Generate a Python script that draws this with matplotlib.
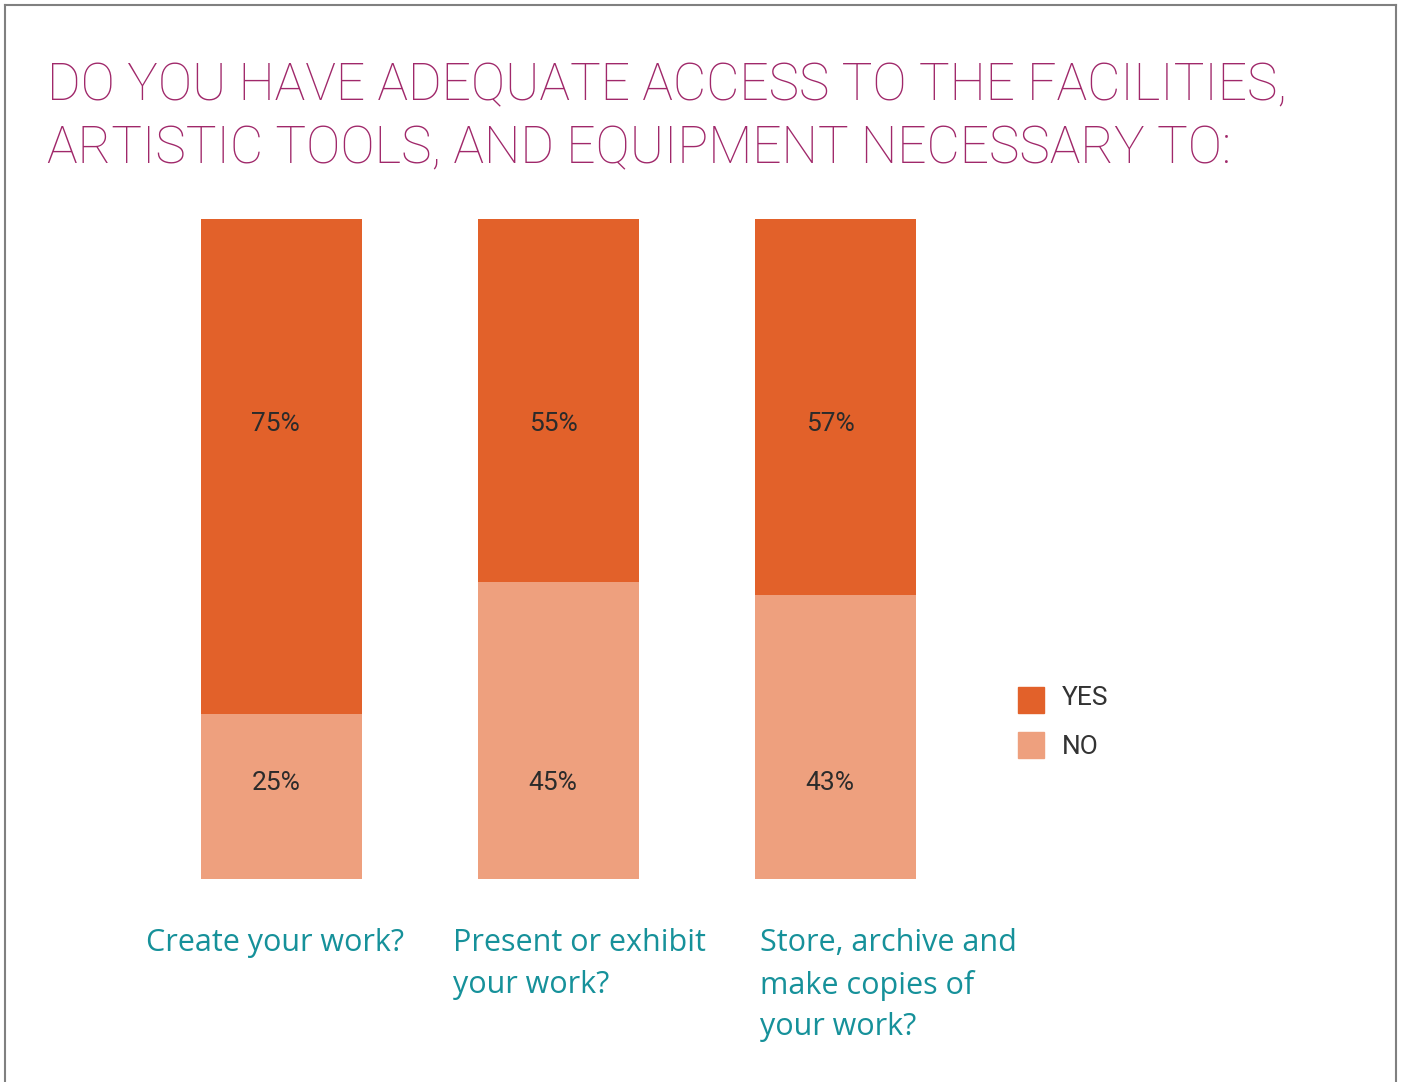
import matplotlib.pyplot as plt
import matplotlib.patches as mpatches
import numpy as np

questions = ['Create your work?', 'Present or exhibit\nyour work?',
             'Store, archive and\nmake copies of\nyour work?']
yes = np.array([75, 55, 57])
no = np.array([25, 45, 43])

YES_C = '#E2612A'
NO_C = '#EEA07E'
TITLE_C = '#A0286A'
TEAL = '#16919A'

W, H = 1401, 1082
fig = plt.figure(figsize=(W / 100, H / 100), dpi=100)

# frame round the panel (no bottom edge in the original)
fig.add_artist(plt.Line2D([5 / W, 5 / W], [0, 1 - 5 / H], color='#808080', lw=1.5))
fig.add_artist(plt.Line2D([5 / W, 1396 / W], [1 - 5 / H, 1 - 5 / H], color='#808080', lw=1.5))
fig.add_artist(plt.Line2D([1396 / W, 1396 / W], [0, 1 - 5 / H], color='#808080', lw=1.5))

fig.text(47 / W, 1 - 100 / H, 'DO YOU HAVE ADEQUATE ACCESS TO THE FACILITIES,',
         color=TITLE_C, fontsize=37, family='Roboto', fontweight='light', va='baseline')
fig.text(47 / W, 1 - 163 / H, 'ARTISTIC TOOLS, AND EQUIPMENT NECESSARY TO:',
         color=TITLE_C, fontsize=37, family='Roboto', fontweight='light', va='baseline')

ax = fig.add_axes([201 / W, (H - 879) / H, 715 / W, 660 / H])
x = np.arange(len(yes))
w = 0.58
ax.bar(x, no, w, color=NO_C)
ax.bar(x, yes, w, bottom=no, color=YES_C)
ax.set_xlim(-w / 2, 2 + w / 2)
ax.set_ylim(0, 100)
ax.axis('off')

for i in x:
    ax.text(i - 0.02, 69, f'{yes[i]}%', ha='center', va='center', fontsize=19,
            family='Roboto', color='#2b2b2b')
    ax.text(i - 0.02, 14.5, f'{no[i]}%', ha='center', va='center', fontsize=19,
            family='Roboto', color='#2b2b2b')

label_x = [146, 453, 760]
for lx, q in zip(label_x, questions):
    fig.text(lx / W, 1 - 928 / H, q, ha='left', va='top', fontsize=22,
             family='Open Sans', color=TEAL, linespacing=1.5)

# legend
fig.patches.append(mpatches.Rectangle((1018 / W, 1 - 713 / H), 26 / W, 26 / H,
                                      color=YES_C, transform=fig.transFigure))
fig.patches.append(mpatches.Rectangle((1018 / W, 1 - 758 / H), 26 / W, 26 / H,
                                      color=NO_C, transform=fig.transFigure))
fig.text(1062 / W, 1 - 698 / H, 'YES', va='center', fontsize=19,
         family='Roboto', color='#333333')
fig.text(1062 / W, 1 - 747 / H, 'NO', va='center', fontsize=19,
         family='Roboto', color='#333333')

fig.savefig('out.png', dpi=100)
